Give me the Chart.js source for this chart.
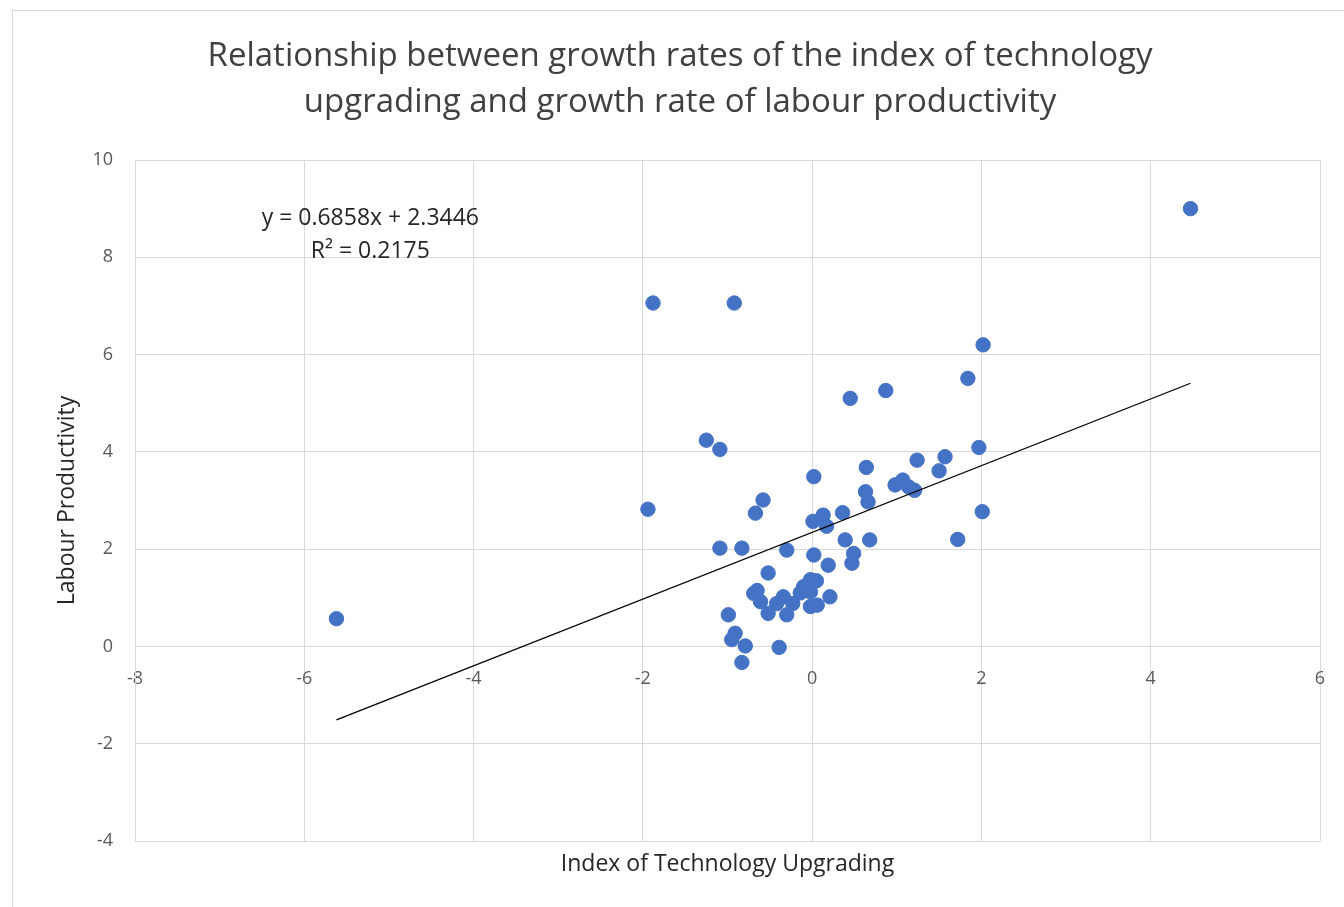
<!DOCTYPE html>
<html>
<head>
<meta charset="utf-8">
<script src="https://cdn.jsdelivr.net/npm/chart.js@4.4.1/dist/chart.umd.min.js"></script>
<style>
  html, body { margin: 0; padding: 0; background: #ffffff; }
  #wrap { position: relative; width: 1344px; height: 907px; }
  canvas { display: block; }
</style>
</head>
<body>
<div id="wrap"><canvas id="c" width="1344" height="907"></canvas></div>
<script>
// ---- data ----
const techIndex = [
  4.47, -5.62, -1.88, -0.92, 2.02, 1.84, 0.87, 0.45, -1.25, -1.09,
  1.97, 1.57, 1.24, 1.50, 0.64, 0.02, -1.94, -0.58, -0.67, 0.98,
  1.07, 1.14, 1.21, 0.63, 0.66, 2.01, 0.36, 0.13, 0.01, 0.17,
  -1.09, -0.83, -0.30, 0.02, 0.39, 0.68, 1.72, 0.49, 0.47, 0.19,
  -0.52, -0.65, -0.69, -0.61, -0.52, -0.34, -0.30, -0.42, -0.23, -0.14,
  -0.10, 0.02, -0.02, 0.05, -0.02, -0.02, 0.06, 0.21, -0.99, -0.91,
  -0.95, -0.79, -0.39, -0.83
];
const labourProd = [
  9.00, 0.57, 7.06, 7.06, 6.20, 5.51, 5.26, 5.10, 4.24, 4.05,
  4.09, 3.90, 3.83, 3.61, 3.68, 3.49, 2.82, 3.01, 2.74, 3.32,
  3.42, 3.28, 3.21, 3.18, 2.97, 2.77, 2.75, 2.70, 2.57, 2.47,
  2.02, 2.02, 1.98, 1.88, 2.19, 2.19, 2.20, 1.91, 1.71, 1.67,
  1.51, 1.15, 1.09, 0.92, 0.68, 1.02, 0.65, 0.88, 0.88, 1.10,
  1.23, 1.33, 1.37, 1.35, 1.12, 0.82, 0.85, 1.02, 0.65, 0.27,
  0.14, 0.01, -0.02, -0.33
];
const trendSlope = [0.6858];
const trendIntercept = [2.3446];
const rSquared = ["0.2175"];
const xTicks = [-8, -6, -4, -2, 0, 2, 4, 6];
const yTicks = [-4, -2, 0, 2, 4, 6, 8, 10];
const titleLines = ["Relationship between growth rates of the index of technology", "upgrading and growth rate of labour productivity"];
const xTitle = "Index of Technology Upgrading";
const yTitle = "Labour Productivity";
const eqLines = ["y = " + trendSlope[0] + "x + " + trendIntercept[0], "R\u00B2 = " + rSquared[0]];
const eqAnchor = [-5.22, 8.8, 8.13]; // data position of the equation label

const points = techIndex.map((x, i) => ({ x: x, y: labourProd[i] }));
const xMin = Math.min(...techIndex), xMax = Math.max(...techIndex);
const trend = [
  { x: xMin, y: trendSlope[0] * xMin + trendIntercept[0] },
  { x: xMax, y: trendSlope[0] * xMax + trendIntercept[0] }
];

const FONT = "'Open Sans', 'Noto Sans', sans-serif";
const GRID = '#d9d9d9';

const framePlugin = {
  id: 'frame',
  beforeDraw(chart) {
    const ctx = chart.ctx;
    ctx.save();
    ctx.fillStyle = '#ffffff';
    ctx.fillRect(0, 0, chart.width, chart.height);
    ctx.strokeStyle = '#d9d9d9';
    ctx.lineWidth = 1;
    ctx.strokeRect(12.5, 10.5, 1400, 1000);
    ctx.restore();
  },
  afterDraw(chart) {
    const ctx = chart.ctx;
    const xs = chart.scales.x, ys = chart.scales.y;
    ctx.save();
    ctx.fillStyle = '#262626';
    ctx.font = "23px " + FONT;
    ctx.textAlign = 'center';
    ctx.textBaseline = 'middle';
    const px = xs.getPixelForValue(eqAnchor[0]);
    ctx.fillText(eqLines[0], px, ys.getPixelForValue(eqAnchor[1]));
    ctx.fillText(eqLines[1], px, ys.getPixelForValue(eqAnchor[2]));
    ctx.restore();
  }
};

new Chart(document.getElementById('c'), {
  type: 'scatter',
  data: {
    datasets: [
      {
        type: 'line',
        label: 'Trend',
        data: trend,
        borderColor: '#000000',
        borderWidth: 1.3,
        pointRadius: 0,
        fill: false,
        order: 0
      },
      {
        label: 'Data',
        data: points,
        backgroundColor: '#4472C4',
        borderColor: '#4472C4',
        borderWidth: 1,
        pointRadius: 7.2,
        pointHoverRadius: 7.2,
        order: 1
      }
    ]
  },
  options: {
    responsive: false,
    animation: false,
    devicePixelRatio: 1,
    layout: { padding: { left: 40, right: 24, top: 0, bottom: 0 } },
    plugins: {
      legend: { display: false },
      tooltip: { enabled: false },
      title: {
        display: true,
        text: titleLines,
        color: '#404040',
        font: { family: FONT, size: 33, weight: 'normal', lineHeight: 46 / 33 },
        padding: { top: 34, bottom: 34 }
      },
      subtitle: {
        display: true,
        position: 'bottom',
        fullSize: false,
        text: xTitle,
        color: '#262626',
        font: { family: FONT, size: 23, weight: 'normal', lineHeight: 1.2 },
        padding: { top: 9.2, bottom: 29.2 }
      }
    },
    scales: {
      x: {
        type: 'linear',
        position: { y: 0 },
        min: -8, max: 6,
        afterBuildTicks(scale) { scale.ticks = xTicks.map(v => ({ value: v })); },
        afterFit(scale) { scale.paddingLeft = 0; scale.paddingRight = 0; },
        grid: { color: GRID, lineWidth: 1, drawTicks: false },
        border: { display: true, color: GRID },
        ticks: { color: '#595959', font: { family: FONT, size: 18 }, padding: 22, maxRotation: 0 }
      },
      y: {
        type: 'linear',
        position: 'left',
        min: -4, max: 10,
        afterBuildTicks(scale) { scale.ticks = yTicks.map(v => ({ value: v })); },
        afterFit(scale) { scale.width = 95; },
        grid: { color: GRID, lineWidth: 1, drawTicks: false },
        border: { display: true, color: GRID },
        ticks: { color: '#595959', font: { family: FONT, size: 18 }, padding: 22 },
        title: {
          display: true,
          text: yTitle,
          color: '#262626',
          font: { family: FONT, size: 23, weight: 'normal', lineHeight: 1.2 },
          padding: { top: 14, bottom: 0 }
        }
      }
    }
  },
  plugins: [framePlugin]
});
</script>
</body>
</html>
